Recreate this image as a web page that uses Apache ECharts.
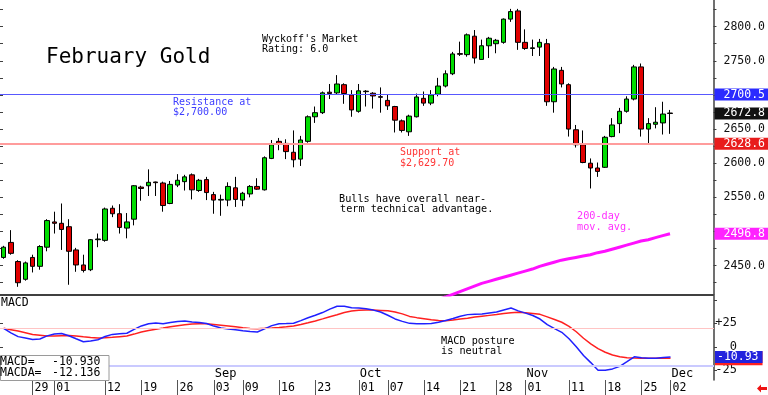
<!DOCTYPE html>
<html><head><meta charset="utf-8">
<script src="https://cdn.jsdelivr.net/npm/echarts@6/dist/echarts.min.js"></script>
<style>html,body{margin:0;padding:0;background:#fff}#c{width:768px;height:395px}</style>
</head><body><div id="c"></div><script>
const dates = [
'2024-07-23','2024-07-24','2024-07-25','2024-07-26','2024-07-29','2024-07-30','2024-07-31',
'2024-08-01','2024-08-02','2024-08-05','2024-08-06','2024-08-07','2024-08-08','2024-08-09','2024-08-12','2024-08-13','2024-08-14','2024-08-15','2024-08-16','2024-08-19','2024-08-20','2024-08-21','2024-08-22','2024-08-23','2024-08-26','2024-08-27','2024-08-28','2024-08-29','2024-08-30',
'2024-09-03','2024-09-04','2024-09-05','2024-09-06','2024-09-09','2024-09-10','2024-09-11','2024-09-12','2024-09-13','2024-09-16','2024-09-17','2024-09-18','2024-09-19','2024-09-20','2024-09-23','2024-09-24','2024-09-25','2024-09-26','2024-09-27','2024-09-30',
'2024-10-01','2024-10-02','2024-10-03','2024-10-04','2024-10-07','2024-10-08','2024-10-09','2024-10-10','2024-10-11','2024-10-14','2024-10-15','2024-10-16','2024-10-17','2024-10-18','2024-10-21','2024-10-22','2024-10-23','2024-10-24','2024-10-25','2024-10-28','2024-10-29','2024-10-30','2024-10-31',
'2024-11-01','2024-11-04','2024-11-05','2024-11-06','2024-11-07','2024-11-08','2024-11-11','2024-11-12','2024-11-13','2024-11-14','2024-11-15','2024-11-18','2024-11-19','2024-11-20','2024-11-21','2024-11-22','2024-11-25','2024-11-26','2024-11-27','2024-11-29',
'2024-12-02'];
const opens  = [2462,2484,2456,2430,2462,2449,2477,2514,2512,2507,2473,2451,2444,2488,2487,2534,2526,2505,2518,2565,2567,2572.5,2571,2541,2568,2573,2583,2560,2576,2554,2546,2546,2564,2546,2555,2566,2561,2607,2632,2629,2616,2606,2632,2668,2674,2704,2703,2715,2700,2676,2705.5,2702.5,2697.5,2692,2683,2662,2646,2668,2695,2688,2701,2713,2731,2760.5,2759,2786,2752,2772,2775,2777,2811,2823,2777,2768,2770,2775,2690,2736,2715,2649,2627,2600,2593,2594,2639,2658,2676,2694,2741,2650,2657,2659,2673.5];
const closes = [2477,2468,2425,2454,2449,2478,2516,2512,2503,2471,2451,2443,2488,2489,2533,2526,2506,2514,2567,2563,2572,2571.5,2538,2569,2575,2580,2561,2575,2557,2546,2547,2566,2547,2556,2566,2562,2608,2627,2628,2617,2605,2634,2668,2674,2703,2702,2716,2702,2678,2706,2704.8,2698.5,2696.5,2684,2663,2648,2669,2697,2688,2700,2713,2731,2760,2759.5,2788,2754,2772,2783,2780,2811,2822,2777,2768,2769,2777,2690,2738,2716,2650,2627,2601,2593,2588,2638,2656,2676,2694,2741,2650,2658,2660,2672,2672.8];
const lows   = [2460,2466,2419,2428,2440,2444,2471,2497,2473,2422,2441,2440,2442,2477,2485,2521,2497,2490,2509,2545,2552,2552,2529,2540,2565,2560,2547,2558,2546,2526,2523,2537,2536,2537,2550,2561,2560,2606,2619,2606,2594,2596,2630,2659,2672,2694,2700,2687,2668,2674,2683,2680,2674,2678,2645,2645,2640,2667,2684,2685,2698,2711,2729,2757,2756,2746,2752,2754,2761,2775,2807,2766,2766,2757,2757,2684,2674,2711,2639,2623,2600,2563,2580,2593,2638,2644,2674,2692,2639,2627,2651,2642,2643];
const highs  = [2479,2502,2458,2456,2466,2480,2518,2529,2541,2518,2476,2466,2489,2497,2535,2538,2540,2527,2568,2567,2591,2573,2573,2574,2584,2583,2585,2577,2580,2558,2554,2572,2580,2558,2568,2578,2610,2634,2637,2635,2648,2640,2670,2683,2705,2716,2729,2717,2707,2716,2707,2704,2711,2700,2684,2664,2671,2702,2705,2707,2725,2736,2763,2778,2790,2795,2781,2785,2782,2812,2826,2826,2796,2781,2782,2782,2741,2741,2717,2656,2648,2607,2601,2640,2666,2681,2698,2744,2746,2666,2682,2690,2678];
const ma200Start = 59;
const ma200 = [2397,2400.5,2404,2408,2412,2416,2420,2424,2427,2430,2433,2436,2439,2442,2445,2449,2452,2455,2458,2460,2462,2464,2466,2469,2471,2474,2477,2480,2483,2486,2488,2491,2494,2496.8];
const macd = [19.7,14.8,10.8,9.3,7.7,8.3,11.6,13.5,14.2,11.8,8.5,5.4,6.2,7.5,11.0,13.2,13.8,14.4,18.5,22.2,24.5,25.3,24.6,25.8,27.0,27.5,26.3,25.8,24.8,22.0,20.0,18.9,18.0,17.0,16.2,15.8,19.0,22.5,24.5,24.7,25.0,27.8,30.8,33.5,36.4,40.0,43.1,43.2,41.5,41.3,40.4,39.0,37.0,33.5,29.6,27.0,24.9,24.5,24.4,24.8,26.0,28.0,30.0,32.5,34.2,34.6,34.9,36.0,37.0,39.2,41.3,38.2,35.8,33.3,29.5,23.5,19.3,15.4,8.5,0.0,-9.2,-16.8,-25.0,-25.0,-23.5,-20.8,-15.8,-10.6,-11.7,-12.2,-12.2,-11.5,-10.93];
const macdAvg = [19.7,18.2,16.7,14.9,13.1,12.4,11.5,11.4,11.8,12.1,11.5,10.7,10.0,9.4,9.6,10.1,10.8,11.5,13.5,15.8,17.4,18.7,19.9,21.2,22.4,23.4,24.3,24.6,24.4,23.7,23.0,22.2,21.2,20.2,19.4,19.3,19.6,20.0,20.5,21.2,22.1,23.7,25.5,27.5,29.7,32.0,34.1,36.5,38.0,38.9,39.1,39.0,38.7,38.4,37.0,35.0,32.3,31.0,29.9,28.8,28.0,27.8,28.5,29.5,30.3,31.6,32.5,33.4,34.3,35.3,36.2,36.7,36.3,35.5,34.5,31.8,29.0,26.1,21.8,16.0,9.1,3.1,-2.0,-5.8,-8.7,-10.6,-11.6,-12.0,-12.2,-12.2,-12.1,-12.0,-12.136];
const priceLabels = [2450,2550,2600,2650,2750,2800];
const priceTicks = [2425,2450,2475,2500,2525,2550,2575,2600,2625,2650,2675,2700,2725,2750,2775,2800,2825];
const macdLabels = [25,0,-25];
const macdTicks = [50,25,0,-25];
const macdBands = [20,-20];
const dayTickDates = ['2024-07-29','2024-08-01','2024-08-12','2024-08-19','2024-08-26','2024-09-03','2024-09-09','2024-09-16','2024-09-23','2024-10-01','2024-10-07','2024-10-14','2024-10-21','2024-10-28','2024-11-01','2024-11-11','2024-11-18','2024-11-25','2024-12-02'];
const monthTickDates = ['2024-09-03','2024-10-01','2024-11-01','2024-12-02'];
const monthNames = ['Jan','Feb','Mar','Apr','May','Jun','Jul','Aug','Sep','Oct','Nov','Dec'];
const resistanceLevel = 2700.5;
const supportLevel = 2628.6;

const MONO = 'DejaVu Sans Mono';
const last = dates.length - 1;
const candleData = dates.map((d, i) => [i, opens[i], closes[i], lows[i], highs[i]]);
const maData = ma200.map((v, k) => [ma200Start + k, v]);
const macdData = macd.map((v, i) => [i, v]);
const macdAvgData = macdAvg.map((v, i) => [i, v]);
const dayIdx = dayTickDates.map(d => dates.indexOf(d));
const monthIdx = monthTickDates.map(d => dates.indexOf(d));
const HIDDEN_LINE = { color: 'rgba(0,0,0,0)', width: 0 };

function boxLabel(bg, text, padLeft, h) {
  return { show: true, position: 'end', distance: 1, formatter: text,
    backgroundColor: bg, color: '#fff', fontFamily: MONO, fontSize: 11.5,
    padding: [0, 4, 0, padLeft], lineHeight: h || 12, height: h || 12 };
}

const chart = echarts.init(document.getElementById('c'), null, { renderer: 'canvas' });
const xBase = { type: 'value', min: -0.5, max: 98, splitLine: { show: false } };
chart.setOption({
  animation: false,
  backgroundColor: '#fff',
  grid: [
    { left: 0, right: 54, top: 0, height: 295 },
    { left: 0, right: 54, top: 296, height: 84 }
  ],
  xAxis: [
    Object.assign({}, xBase, { gridIndex: 0, position: 'bottom',
      axisLine: { show: true, onZero: false, lineStyle: { color: '#404040', width: 2 } },
      axisTick: { show: false }, axisLabel: { show: false } }),
    Object.assign({}, xBase, { gridIndex: 1, position: 'bottom',
      axisLine: { show: false, onZero: false },
      axisTick: { show: true, customValues: dayIdx, length: 15, lineStyle: { color: '#555' } },
      axisLabel: { show: true, customValues: dayIdx, formatter: v => dates[v].slice(8),
        align: 'left', padding: [0, 0, 0, 2], margin: 2, fontFamily: MONO, fontSize: 11.5, color: '#000' } }),
    Object.assign({}, xBase, { gridIndex: 1, position: 'bottom',
      axisLine: { show: false, onZero: false }, axisTick: { show: false },
      axisLabel: { show: true, inside: true, customValues: monthIdx,
        formatter: v => monthNames[parseInt(dates[v].slice(5, 7), 10) - 1],
        align: 'left', padding: [0, 0, 0, 1], margin: 0, fontFamily: MONO, fontSize: 12, color: '#000' } })
  ],
  yAxis: [
    { type: 'value', gridIndex: 0, position: 'right', min: 2407, max: 2839, splitLine: { show: false },
      axisLine: { show: true, onZero: false, lineStyle: { color: '#404040', width: 1.5 } },
      axisTick: { show: true, customValues: priceTicks, length: 3, lineStyle: { color: '#404040' } },
      axisLabel: { show: true, customValues: priceLabels, formatter: v => v.toFixed(1), margin: 10,
        fontFamily: MONO, fontSize: 11.5, color: '#111' } },
    { type: 'value', gridIndex: 0, position: 'left', min: 2407, max: 2839, splitLine: { show: false },
      axisLine: { show: false, onZero: false },
      axisTick: { show: true, inside: true, customValues: priceTicks, length: 3, lineStyle: { color: '#404040' } },
      axisLabel: { show: false } },
    { type: 'value', gridIndex: 1, position: 'right', min: -35.3, max: 54, splitLine: { show: false },
      axisLine: { show: true, onZero: false, lineStyle: { color: '#404040', width: 1.5 } },
      axisTick: { show: true, customValues: macdTicks, length: 3, lineStyle: { color: '#404040' } },
      axisLabel: { show: true, customValues: macdLabels, formatter: v => (v > 0 ? '+' + v : '' + v),
        align: 'right', margin: 23, fontFamily: MONO, fontSize: 12, color: '#111' } },
    { type: 'value', gridIndex: 1, position: 'left', min: -35.3, max: 54, splitLine: { show: false },
      axisLine: { show: false, onZero: false },
      axisTick: { show: true, inside: true, customValues: macdLabels, length: 3, lineStyle: { color: '#404040' } },
      axisLabel: { show: false } }
  ],
  series: [
    { type: 'candlestick', xAxisIndex: 0, yAxisIndex: 0, data: candleData,
      encode: { x: 0, y: [1, 2, 3, 4] }, barWidth: 5,
      itemStyle: { color: '#00dd00', color0: '#e00000', borderColor: '#000', borderColor0: '#000', borderWidth: 1 },
      markLine: { silent: true, symbol: ['none', 'none'], animation: false,
        data: [
          { yAxis: resistanceLevel, lineStyle: { color: '#5858ff', width: 1, type: 'solid' },
            label: boxLabel('#2b2bff', () => resistanceLevel.toFixed(1), 9) },
          { yAxis: supportLevel, lineStyle: { color: '#ff9c9c', width: 2, type: 'solid' },
            label: boxLabel('#e81c1c', () => supportLevel.toFixed(1), 9) },
          { yAxis: closes[last], lineStyle: HIDDEN_LINE,
            label: boxLabel('#111111', () => closes[last].toFixed(1), 9) },
          { yAxis: ma200[ma200.length - 1], lineStyle: HIDDEN_LINE,
            label: boxLabel('#ff22ff', () => ma200[ma200.length - 1].toFixed(1), 9) }
        ] } },
    { type: 'line', xAxisIndex: 0, yAxisIndex: 0, data: maData, showSymbol: false, symbol: 'none',
      lineStyle: { color: '#ff10ff', width: 3 }, z: 3 },
    { type: 'line', xAxisIndex: 1, yAxisIndex: 2, data: macdAvgData, showSymbol: false, symbol: 'none',
      lineStyle: { color: '#ff2020', width: 1.5 } },
    { type: 'line', xAxisIndex: 1, yAxisIndex: 2, data: macdData, showSymbol: false, symbol: 'none',
      lineStyle: { color: '#2020ff', width: 1.5 },
      markLine: { silent: true, symbol: ['none', 'none'], animation: false,
        data: [
          { yAxis: macdBands[0], lineStyle: { color: '#ffc4c4', width: 1, type: 'solid' }, label: { show: false } },
          { yAxis: macdBands[1], lineStyle: { color: '#cacaff', width: 2, type: 'solid' }, label: { show: false } },
          { yAxis: macdAvg[last], lineStyle: HIDDEN_LINE,
            label: boxLabel('#ff2020', () => macdAvg[last].toFixed(2), 2, 14) },
          { yAxis: macd[last], lineStyle: HIDDEN_LINE,
            label: boxLabel('#2222dd', () => macd[last].toFixed(2), 2, 12) }
        ] } }
  ],
  graphic: [
    { type: 'text', x: 46, y: 58, style: { text: 'February Gold', fill: '#000', font: '21px ' + MONO, verticalAlign: 'middle' } },
    { type: 'text', x: 262, y: 39, style: { text: "Wyckoff's Market", fill: '#000', font: '10px ' + MONO, verticalAlign: 'middle' } },
    { type: 'text', x: 262, y: 49.5, style: { text: 'Rating: 6.0', fill: '#000', font: '10px ' + MONO, verticalAlign: 'middle' } },
    { type: 'text', x: 173, y: 102.3, style: { text: 'Resistance at', fill: '#3c3cff', font: '10px ' + MONO, verticalAlign: 'middle' } },
    { type: 'text', x: 173, y: 112.5, style: { text: '$2,700.00', fill: '#3c3cff', font: '10px ' + MONO, verticalAlign: 'middle' } },
    { type: 'text', x: 400, y: 152.3, style: { text: 'Support at', fill: '#ff3535', font: '10px ' + MONO, verticalAlign: 'middle' } },
    { type: 'text', x: 400, y: 163, style: { text: '$2,629.70', fill: '#ff3535', font: '10px ' + MONO, verticalAlign: 'middle' } },
    { type: 'text', x: 339, y: 199, style: { text: 'Bulls have overall near-', fill: '#000', font: '10.2px ' + MONO, verticalAlign: 'middle' } },
    { type: 'text', x: 340, y: 209.5, style: { text: 'term technical advantage.', fill: '#000', font: '10.2px ' + MONO, verticalAlign: 'middle' } },
    { type: 'text', x: 577, y: 216.7, style: { text: '200-day', fill: '#ff30ff', font: '10.2px ' + MONO, verticalAlign: 'middle' } },
    { type: 'text', x: 577, y: 227.7, style: { text: 'mov. avg.', fill: '#ff30ff', font: '10.2px ' + MONO, verticalAlign: 'middle' } },
    { type: 'text', x: 441, y: 341.3, style: { text: 'MACD posture', fill: '#000', font: '10.2px ' + MONO, verticalAlign: 'middle' } },
    { type: 'text', x: 441, y: 351.5, style: { text: 'is neutral', fill: '#000', font: '10.2px ' + MONO, verticalAlign: 'middle' } },
    { type: 'text', x: 1, y: 303, style: { text: 'MACD', fill: '#000', font: '11.5px ' + MONO, verticalAlign: 'middle' } },
    { type: 'rect', z: 100, shape: { x: 0.5, y: 355.5, width: 108.5, height: 25 }, style: { fill: '#fff', stroke: '#9a9a9a', lineWidth: 1 } },
    { type: 'text', z: 101, x: 0, y: 361.7, style: { text: 'MACD=', fill: '#000', font: '11.5px ' + MONO, verticalAlign: 'middle' } },
    { type: 'text', z: 101, x: 52, y: 361.7, style: { text: macd[last].toFixed(3), fill: '#000', font: '11.5px ' + MONO, verticalAlign: 'middle' } },
    { type: 'text', z: 101, x: 0, y: 373.3, style: { text: 'MACDA=', fill: '#000', font: '11.5px ' + MONO, verticalAlign: 'middle' } },
    { type: 'text', z: 101, x: 52, y: 373.3, style: { text: macdAvg[last].toFixed(3), fill: '#000', font: '11.5px ' + MONO, verticalAlign: 'middle' } },
    { type: 'polygon', z: 101, shape: { points: [[757, 388.5], [761, 384.5], [761, 387], [767, 387], [767, 390], [761, 390], [761, 392.5]] }, style: { fill: '#ee1111' } }
  ]
});
</script></body></html>
